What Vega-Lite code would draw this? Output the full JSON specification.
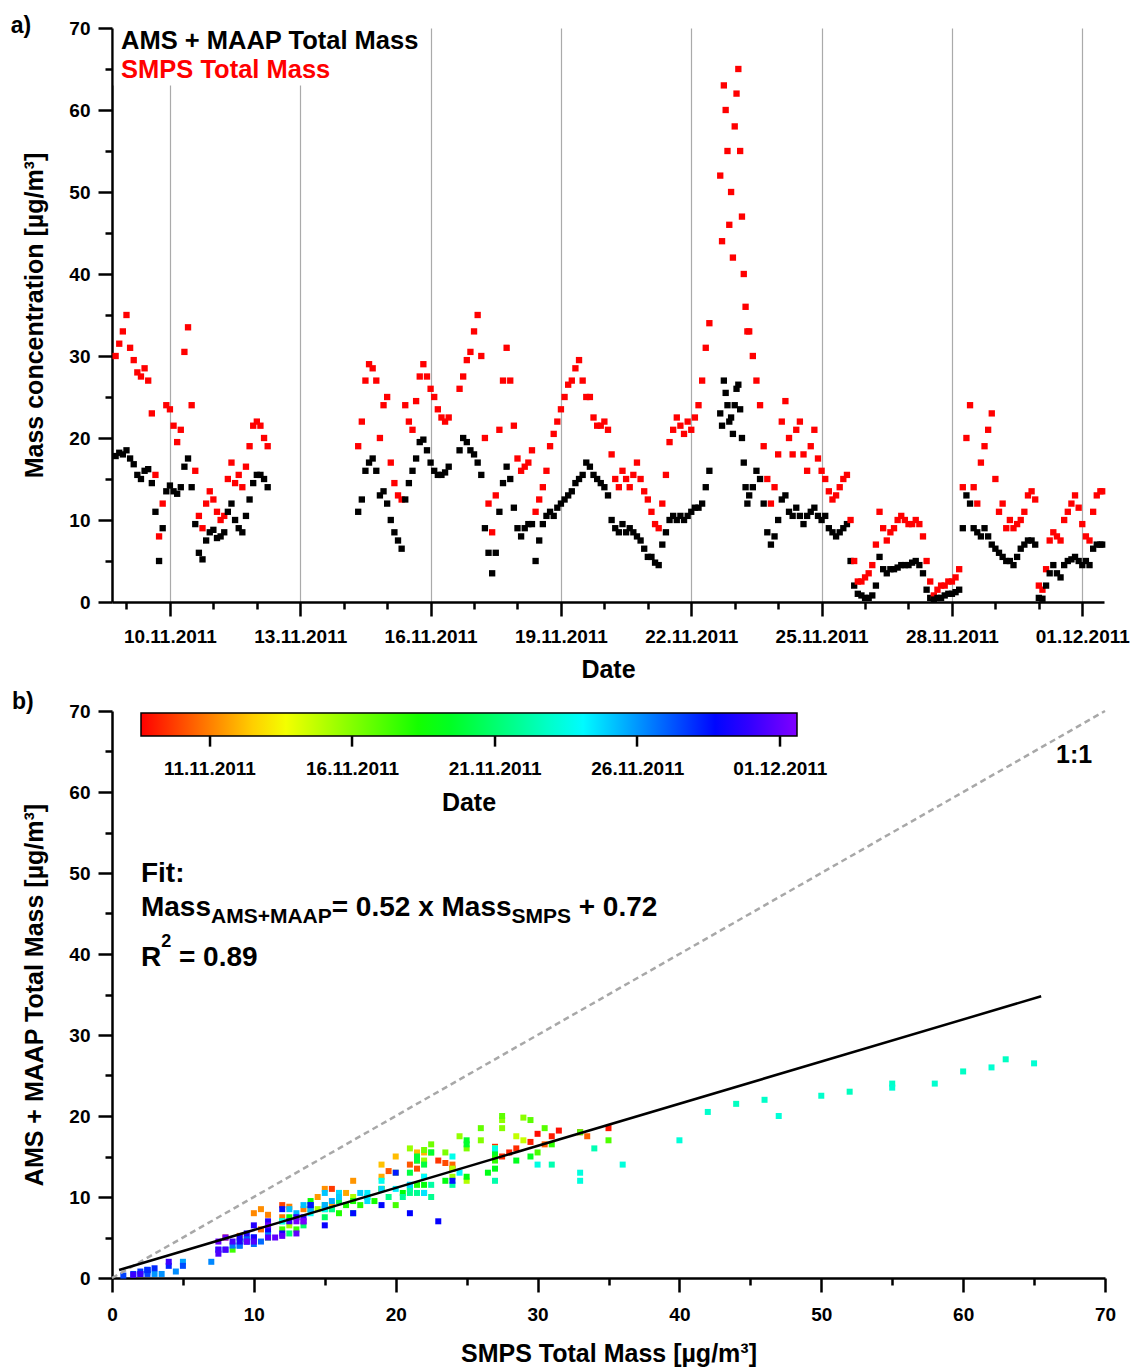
{
"$schema": "https://vega.github.io/schema/vega-lite/v6.json",
"background": "white",
"padding": {"left": 10, "top": 14, "right": 5, "bottom": 5},
"spacing": 8,
"config": {
  "font": "Liberation Sans",
  "view": {"stroke": null},
  "axis": {"domainColor": "black", "domainWidth": 2.5, "tickColor": "black", "tickWidth": 2.5, "labelFont": "Liberation Sans", "labelFontSize": 19, "labelFontWeight": "bold", "labelColor": "black", "titleFont": "Liberation Sans", "titleFontSize": 25, "titleFontWeight": "bold", "titleColor": "black", "grid": false, "labelFlush": false, "labelOverlap": false}
},
"datasets": {
  "obs": [
    {"t":"2011-11-08T18:00","smps":30.0,"ams":17.8},
    {"t":"2011-11-08T20:00","smps":31.5,"ams":18.2},
    {"t":"2011-11-08T22:00","smps":33.0,"ams":18.0},
    {"t":"2011-11-09T00:00","smps":35.0,"ams":18.5},
    {"t":"2011-11-09T02:00","smps":31.0,"ams":17.5},
    {"t":"2011-11-09T04:00","smps":29.5,"ams":16.8},
    {"t":"2011-11-09T06:00","smps":28.0,"ams":15.5},
    {"t":"2011-11-09T08:00","smps":27.5,"ams":15.0},
    {"t":"2011-11-09T10:00","smps":28.5,"ams":16.0},
    {"t":"2011-11-09T12:00","smps":27.0,"ams":16.2},
    {"t":"2011-11-09T14:00","smps":23.0,"ams":14.5},
    {"t":"2011-11-09T16:00","smps":15.5,"ams":11.0},
    {"t":"2011-11-09T18:00","smps":8.0,"ams":5.0},
    {"t":"2011-11-09T20:00","smps":12.0,"ams":9.0},
    {"t":"2011-11-09T22:00","smps":24.0,"ams":13.5},
    {"t":"2011-11-10T00:00","smps":23.5,"ams":14.2},
    {"t":"2011-11-10T02:00","smps":21.5,"ams":13.5},
    {"t":"2011-11-10T04:00","smps":19.5,"ams":13.2},
    {"t":"2011-11-10T06:00","smps":21.0,"ams":14.0},
    {"t":"2011-11-10T08:00","smps":30.5,"ams":16.5},
    {"t":"2011-11-10T10:00","smps":33.5,"ams":17.5},
    {"t":"2011-11-10T12:00","smps":24.0,"ams":14.0},
    {"t":"2011-11-10T14:00","smps":16.0,"ams":9.5},
    {"t":"2011-11-10T16:00","smps":10.5,"ams":6.0},
    {"t":"2011-11-10T18:00","smps":9.0,"ams":5.2},
    {"t":"2011-11-10T20:00","smps":12.0,"ams":7.5},
    {"t":"2011-11-10T22:00","smps":13.5,"ams":8.5},
    {"t":"2011-11-11T00:00","smps":12.5,"ams":8.8},
    {"t":"2011-11-11T02:00","smps":11.0,"ams":7.8},
    {"t":"2011-11-11T04:00","smps":10.0,"ams":8.0},
    {"t":"2011-11-11T06:00","smps":10.5,"ams":8.5},
    {"t":"2011-11-11T08:00","smps":15.0,"ams":11.0},
    {"t":"2011-11-11T10:00","smps":17.0,"ams":12.0},
    {"t":"2011-11-11T12:00","smps":14.5,"ams":10.0},
    {"t":"2011-11-11T14:00","smps":15.5,"ams":9.0},
    {"t":"2011-11-11T16:00","smps":14.0,"ams":8.5},
    {"t":"2011-11-11T18:00","smps":16.5,"ams":10.5},
    {"t":"2011-11-11T20:00","smps":19.0,"ams":12.5},
    {"t":"2011-11-11T22:00","smps":21.5,"ams":14.5},
    {"t":"2011-11-12T00:00","smps":22.0,"ams":15.5},
    {"t":"2011-11-12T02:00","smps":21.5,"ams":15.5},
    {"t":"2011-11-12T04:00","smps":20.0,"ams":15.0},
    {"t":"2011-11-12T06:00","smps":19.0,"ams":14.0},
    {"t":"2011-11-14T08:00","smps":19.0,"ams":11.0},
    {"t":"2011-11-14T10:00","smps":22.0,"ams":12.5},
    {"t":"2011-11-14T12:00","smps":27.0,"ams":16.0},
    {"t":"2011-11-14T14:00","smps":29.0,"ams":17.0},
    {"t":"2011-11-14T16:00","smps":28.5,"ams":17.5},
    {"t":"2011-11-14T18:00","smps":27.0,"ams":16.0},
    {"t":"2011-11-14T20:00","smps":20.0,"ams":13.0},
    {"t":"2011-11-14T22:00","smps":24.0,"ams":13.5},
    {"t":"2011-11-15T00:00","smps":25.0,"ams":12.0},
    {"t":"2011-11-15T02:00","smps":17.0,"ams":10.0},
    {"t":"2011-11-15T04:00","smps":14.5,"ams":8.5},
    {"t":"2011-11-15T06:00","smps":13.0,"ams":7.5},
    {"t":"2011-11-15T08:00","smps":12.5,"ams":6.5},
    {"t":"2011-11-15T10:00","smps":24.0,"ams":12.5},
    {"t":"2011-11-15T12:00","smps":22.0,"ams":14.5},
    {"t":"2011-11-15T14:00","smps":21.0,"ams":16.0},
    {"t":"2011-11-15T16:00","smps":24.5,"ams":17.5},
    {"t":"2011-11-15T18:00","smps":27.5,"ams":19.5},
    {"t":"2011-11-15T20:00","smps":29.0,"ams":19.8},
    {"t":"2011-11-15T22:00","smps":27.5,"ams":18.5},
    {"t":"2011-11-16T00:00","smps":26.0,"ams":17.0},
    {"t":"2011-11-16T02:00","smps":25.0,"ams":16.0},
    {"t":"2011-11-16T04:00","smps":23.5,"ams":15.5},
    {"t":"2011-11-16T06:00","smps":22.5,"ams":15.5},
    {"t":"2011-11-16T08:00","smps":22.0,"ams":15.8},
    {"t":"2011-11-16T10:00","smps":22.5,"ams":16.5},
    {"t":"2011-11-16T16:00","smps":26.0,"ams":18.5},
    {"t":"2011-11-16T18:00","smps":27.5,"ams":20.0},
    {"t":"2011-11-16T20:00","smps":29.5,"ams":19.5},
    {"t":"2011-11-16T22:00","smps":30.5,"ams":18.5},
    {"t":"2011-11-17T00:00","smps":33.0,"ams":18.0},
    {"t":"2011-11-17T02:00","smps":35.0,"ams":17.0},
    {"t":"2011-11-17T04:00","smps":30.0,"ams":15.5},
    {"t":"2011-11-17T06:00","smps":20.0,"ams":9.0},
    {"t":"2011-11-17T08:00","smps":12.0,"ams":6.0},
    {"t":"2011-11-17T10:00","smps":8.5,"ams":3.5},
    {"t":"2011-11-17T12:00","smps":13.0,"ams":6.0},
    {"t":"2011-11-17T14:00","smps":21.0,"ams":11.0},
    {"t":"2011-11-17T16:00","smps":27.0,"ams":14.5},
    {"t":"2011-11-17T18:00","smps":31.0,"ams":16.5},
    {"t":"2011-11-17T20:00","smps":27.0,"ams":15.0},
    {"t":"2011-11-17T22:00","smps":21.5,"ams":11.5},
    {"t":"2011-11-18T00:00","smps":17.5,"ams":9.0},
    {"t":"2011-11-18T02:00","smps":16.0,"ams":8.0},
    {"t":"2011-11-18T04:00","smps":16.5,"ams":9.0},
    {"t":"2011-11-18T06:00","smps":17.0,"ams":9.5},
    {"t":"2011-11-18T08:00","smps":18.5,"ams":9.5},
    {"t":"2011-11-18T10:00","smps":11.0,"ams":5.0},
    {"t":"2011-11-18T12:00","smps":12.5,"ams":7.5},
    {"t":"2011-11-18T14:00","smps":14.0,"ams":9.5},
    {"t":"2011-11-18T16:00","smps":16.0,"ams":10.5},
    {"t":"2011-11-18T18:00","smps":19.0,"ams":11.0},
    {"t":"2011-11-18T20:00","smps":20.5,"ams":10.5},
    {"t":"2011-11-18T22:00","smps":22.0,"ams":11.5},
    {"t":"2011-11-19T00:00","smps":23.5,"ams":12.0},
    {"t":"2011-11-19T02:00","smps":25.0,"ams":12.5},
    {"t":"2011-11-19T04:00","smps":26.5,"ams":13.0},
    {"t":"2011-11-19T06:00","smps":27.0,"ams":13.5},
    {"t":"2011-11-19T08:00","smps":28.5,"ams":14.5},
    {"t":"2011-11-19T10:00","smps":29.5,"ams":15.0},
    {"t":"2011-11-19T12:00","smps":27.0,"ams":15.5},
    {"t":"2011-11-19T14:00","smps":25.0,"ams":17.0},
    {"t":"2011-11-19T16:00","smps":25.0,"ams":16.5},
    {"t":"2011-11-19T18:00","smps":22.5,"ams":15.5},
    {"t":"2011-11-19T20:00","smps":21.5,"ams":15.0},
    {"t":"2011-11-19T22:00","smps":21.5,"ams":14.5},
    {"t":"2011-11-20T00:00","smps":22.0,"ams":14.0},
    {"t":"2011-11-20T02:00","smps":21.0,"ams":13.0},
    {"t":"2011-11-20T04:00","smps":18.0,"ams":10.0},
    {"t":"2011-11-20T06:00","smps":15.0,"ams":9.0},
    {"t":"2011-11-20T08:00","smps":14.0,"ams":8.5},
    {"t":"2011-11-20T10:00","smps":16.0,"ams":9.5},
    {"t":"2011-11-20T12:00","smps":15.0,"ams":8.5},
    {"t":"2011-11-20T14:00","smps":14.0,"ams":9.0},
    {"t":"2011-11-20T16:00","smps":15.5,"ams":8.5},
    {"t":"2011-11-20T18:00","smps":17.0,"ams":8.0},
    {"t":"2011-11-20T20:00","smps":15.0,"ams":7.5},
    {"t":"2011-11-20T22:00","smps":13.5,"ams":6.5},
    {"t":"2011-11-21T00:00","smps":12.5,"ams":5.5},
    {"t":"2011-11-21T02:00","smps":11.0,"ams":5.5},
    {"t":"2011-11-21T04:00","smps":9.5,"ams":4.8},
    {"t":"2011-11-21T06:00","smps":9.0,"ams":4.5},
    {"t":"2011-11-21T08:00","smps":12.0,"ams":7.0},
    {"t":"2011-11-21T10:00","smps":15.5,"ams":8.5},
    {"t":"2011-11-21T12:00","smps":19.5,"ams":10.0},
    {"t":"2011-11-21T14:00","smps":21.0,"ams":10.5},
    {"t":"2011-11-21T16:00","smps":22.5,"ams":10.0},
    {"t":"2011-11-21T18:00","smps":21.5,"ams":10.5},
    {"t":"2011-11-21T20:00","smps":20.5,"ams":10.0},
    {"t":"2011-11-21T22:00","smps":22.0,"ams":10.5},
    {"t":"2011-11-22T00:00","smps":21.0,"ams":11.0},
    {"t":"2011-11-22T02:00","smps":22.5,"ams":11.5},
    {"t":"2011-11-22T04:00","smps":24.0,"ams":11.5},
    {"t":"2011-11-22T06:00","smps":27.0,"ams":12.0},
    {"t":"2011-11-22T08:00","smps":31.0,"ams":14.0},
    {"t":"2011-11-22T10:00","smps":34.0,"ams":16.0},
    {"t":"2011-11-22T16:00","smps":52.0,"ams":23.0},
    {"t":"2011-11-22T17:00","smps":44.0,"ams":21.5},
    {"t":"2011-11-22T18:00","smps":63.0,"ams":27.0},
    {"t":"2011-11-22T19:00","smps":60.0,"ams":25.5},
    {"t":"2011-11-22T20:00","smps":55.0,"ams":24.0},
    {"t":"2011-11-22T21:00","smps":46.0,"ams":22.0},
    {"t":"2011-11-22T22:00","smps":50.0,"ams":22.5},
    {"t":"2011-11-22T23:00","smps":42.0,"ams":20.5},
    {"t":"2011-11-23T00:00","smps":58.0,"ams":24.0},
    {"t":"2011-11-23T01:00","smps":62.0,"ams":26.0},
    {"t":"2011-11-23T02:00","smps":65.0,"ams":26.5},
    {"t":"2011-11-23T03:00","smps":55.0,"ams":23.5},
    {"t":"2011-11-23T04:00","smps":47.0,"ams":20.0},
    {"t":"2011-11-23T05:00","smps":40.0,"ams":17.0},
    {"t":"2011-11-23T06:00","smps":36.0,"ams":14.0},
    {"t":"2011-11-23T07:00","smps":33.0,"ams":12.0},
    {"t":"2011-11-23T08:00","smps":33.0,"ams":13.0},
    {"t":"2011-11-23T10:00","smps":30.0,"ams":14.0},
    {"t":"2011-11-23T12:00","smps":27.0,"ams":16.0},
    {"t":"2011-11-23T14:00","smps":24.0,"ams":15.0},
    {"t":"2011-11-23T16:00","smps":19.0,"ams":12.0},
    {"t":"2011-11-23T18:00","smps":15.0,"ams":8.5},
    {"t":"2011-11-23T20:00","smps":12.0,"ams":7.0},
    {"t":"2011-11-23T22:00","smps":14.0,"ams":8.0},
    {"t":"2011-11-24T00:00","smps":18.0,"ams":10.0},
    {"t":"2011-11-24T02:00","smps":22.0,"ams":12.5},
    {"t":"2011-11-24T04:00","smps":24.5,"ams":13.0},
    {"t":"2011-11-24T06:00","smps":20.0,"ams":11.0},
    {"t":"2011-11-24T08:00","smps":18.0,"ams":10.5},
    {"t":"2011-11-24T10:00","smps":21.0,"ams":11.5},
    {"t":"2011-11-24T12:00","smps":22.0,"ams":10.5},
    {"t":"2011-11-24T14:00","smps":18.0,"ams":9.5},
    {"t":"2011-11-24T16:00","smps":16.0,"ams":10.5},
    {"t":"2011-11-24T18:00","smps":19.0,"ams":11.0},
    {"t":"2011-11-24T20:00","smps":21.0,"ams":11.5},
    {"t":"2011-11-24T22:00","smps":17.5,"ams":10.5},
    {"t":"2011-11-25T00:00","smps":16.0,"ams":10.0},
    {"t":"2011-11-25T02:00","smps":15.0,"ams":10.5},
    {"t":"2011-11-25T04:00","smps":13.5,"ams":9.0},
    {"t":"2011-11-25T06:00","smps":12.5,"ams":8.5},
    {"t":"2011-11-25T08:00","smps":13.0,"ams":8.0},
    {"t":"2011-11-25T10:00","smps":14.0,"ams":8.5},
    {"t":"2011-11-25T12:00","smps":15.0,"ams":9.0},
    {"t":"2011-11-25T14:00","smps":15.5,"ams":9.5},
    {"t":"2011-11-25T16:00","smps":10.0,"ams":5.0},
    {"t":"2011-11-25T18:00","smps":5.0,"ams":2.0},
    {"t":"2011-11-25T20:00","smps":2.5,"ams":1.0},
    {"t":"2011-11-25T22:00","smps":2.5,"ams":0.8},
    {"t":"2011-11-26T00:00","smps":3.0,"ams":0.5},
    {"t":"2011-11-26T02:00","smps":3.5,"ams":0.5},
    {"t":"2011-11-26T04:00","smps":4.5,"ams":0.8},
    {"t":"2011-11-26T06:00","smps":7.0,"ams":2.0},
    {"t":"2011-11-26T08:00","smps":11.0,"ams":5.5},
    {"t":"2011-11-26T10:00","smps":9.0,"ams":4.0},
    {"t":"2011-11-26T12:00","smps":7.5,"ams":3.5},
    {"t":"2011-11-26T14:00","smps":8.5,"ams":4.0},
    {"t":"2011-11-26T16:00","smps":9.0,"ams":4.0},
    {"t":"2011-11-26T18:00","smps":10.0,"ams":4.2},
    {"t":"2011-11-26T20:00","smps":10.5,"ams":4.5},
    {"t":"2011-11-26T22:00","smps":10.0,"ams":4.5},
    {"t":"2011-11-27T00:00","smps":9.5,"ams":4.5},
    {"t":"2011-11-27T02:00","smps":9.5,"ams":4.8},
    {"t":"2011-11-27T04:00","smps":10.0,"ams":5.0},
    {"t":"2011-11-27T06:00","smps":9.5,"ams":4.5},
    {"t":"2011-11-27T08:00","smps":8.0,"ams":3.5},
    {"t":"2011-11-27T10:00","smps":5.0,"ams":1.5},
    {"t":"2011-11-27T12:00","smps":2.5,"ams":0.5},
    {"t":"2011-11-27T14:00","smps":0.8,"ams":0.3},
    {"t":"2011-11-27T16:00","smps":1.5,"ams":0.5},
    {"t":"2011-11-27T18:00","smps":2.0,"ams":0.5},
    {"t":"2011-11-27T20:00","smps":2.0,"ams":0.8},
    {"t":"2011-11-27T22:00","smps":2.5,"ams":1.0},
    {"t":"2011-11-28T00:00","smps":2.5,"ams":1.0},
    {"t":"2011-11-28T02:00","smps":3.0,"ams":1.2},
    {"t":"2011-11-28T04:00","smps":4.0,"ams":1.5},
    {"t":"2011-11-28T06:00","smps":14.0,"ams":9.0},
    {"t":"2011-11-28T08:00","smps":20.0,"ams":13.0},
    {"t":"2011-11-28T10:00","smps":24.0,"ams":12.0},
    {"t":"2011-11-28T12:00","smps":14.0,"ams":9.0},
    {"t":"2011-11-28T14:00","smps":12.0,"ams":8.5},
    {"t":"2011-11-28T16:00","smps":17.0,"ams":8.0},
    {"t":"2011-11-28T18:00","smps":19.0,"ams":9.0},
    {"t":"2011-11-28T20:00","smps":21.0,"ams":8.0},
    {"t":"2011-11-28T22:00","smps":23.0,"ams":7.0},
    {"t":"2011-11-29T00:00","smps":15.0,"ams":6.5},
    {"t":"2011-11-29T02:00","smps":11.0,"ams":6.0},
    {"t":"2011-11-29T04:00","smps":12.0,"ams":5.5},
    {"t":"2011-11-29T06:00","smps":9.0,"ams":5.0},
    {"t":"2011-11-29T08:00","smps":10.0,"ams":5.0},
    {"t":"2011-11-29T10:00","smps":9.0,"ams":4.5},
    {"t":"2011-11-29T12:00","smps":9.5,"ams":5.5},
    {"t":"2011-11-29T14:00","smps":10.0,"ams":6.5},
    {"t":"2011-11-29T16:00","smps":11.0,"ams":7.0},
    {"t":"2011-11-29T18:00","smps":13.0,"ams":7.5},
    {"t":"2011-11-29T20:00","smps":13.5,"ams":7.5},
    {"t":"2011-11-29T22:00","smps":12.5,"ams":7.0},
    {"t":"2011-11-30T00:00","smps":2.0,"ams":0.5},
    {"t":"2011-11-30T02:00","smps":1.5,"ams":0.4},
    {"t":"2011-11-30T04:00","smps":4.0,"ams":2.0},
    {"t":"2011-11-30T06:00","smps":7.5,"ams":3.5},
    {"t":"2011-11-30T08:00","smps":8.5,"ams":4.5},
    {"t":"2011-11-30T10:00","smps":8.0,"ams":3.5},
    {"t":"2011-11-30T12:00","smps":7.5,"ams":3.0},
    {"t":"2011-11-30T14:00","smps":10.0,"ams":4.5},
    {"t":"2011-11-30T16:00","smps":11.0,"ams":5.0},
    {"t":"2011-11-30T18:00","smps":12.0,"ams":5.2},
    {"t":"2011-11-30T20:00","smps":13.0,"ams":5.5},
    {"t":"2011-11-30T22:00","smps":11.5,"ams":5.0},
    {"t":"2011-12-01T00:00","smps":9.5,"ams":4.5},
    {"t":"2011-12-01T02:00","smps":8.0,"ams":5.0},
    {"t":"2011-12-01T04:00","smps":7.5,"ams":4.5},
    {"t":"2011-12-01T06:00","smps":11.0,"ams":6.5},
    {"t":"2011-12-01T08:00","smps":13.0,"ams":7.0},
    {"t":"2011-12-01T10:00","smps":13.5,"ams":7.0},
    {"t":"2011-12-01T11:00","smps":13.5,"ams":7.0}
  ],
  "one": [{"smps": 0, "ams": 0}, {"smps": 70, "ams": 70}],
  "fit": [{"smps": 0.5, "ams": 0.98}, {"smps": 65.5, "ams": 34.78}]
},
"vconcat": [
  {
    "width": 992,
    "height": 574,
    "resolve": {"axis": {"x": "independent", "y": "independent"}},
    "layer": [
      {
        "data": {"values": [{}]},
        "mark": {"type": "rect", "color": "white"},
        "encoding": {
          "x": {"datum": {"year": 2011, "month": 11, "date": 8, "hours": 17}, "type": "temporal", "axis": null},
          "x2": {"datum": {"year": 2011, "month": 11, "date": 15, "hours": 20}},
          "y": {"datum": 63, "type": "quantitative", "axis": null},
          "y2": {"datum": 70}
        }
      },
      {
        "data": {"name": "obs"},
        "transform": [{"fold": ["smps", "ams"], "as": ["series", "val"]}],
        "mark": {"type": "square", "filled": true, "size": 40, "opacity": 1},
        "encoding": {
          "x": {"field": "t", "type": "temporal",
            "scale": {"domain": [{"year": 2011, "month": 11, "date": 8, "hours": 16}, {"year": 2011, "month": 12, "date": 1, "hours": 12}]},
            "axis": {"title": "Date", "orient": "bottom", "format": "%d.%m.%Y", "tickSize": 14, "labelPadding": 11, "titlePadding": 11,
              "grid": true, "gridColor": "#aaaaaa", "gridWidth": 1.2,
              "values": [{"year": 2011, "month": 11, "date": 10}, {"year": 2011, "month": 11, "date": 13}, {"year": 2011, "month": 11, "date": 16}, {"year": 2011, "month": 11, "date": 19}, {"year": 2011, "month": 11, "date": 22}, {"year": 2011, "month": 11, "date": 25}, {"year": 2011, "month": 11, "date": 28}, {"year": 2011, "month": 12, "date": 1}]}},
          "y": {"field": "val", "type": "quantitative", "scale": {"domain": [0, 70], "nice": false},
            "axis": {"title": "Mass concentration [µg/m³]", "orient": "left", "values": [0, 10, 20, 30, 40, 50, 60, 70], "tickSize": 14, "labelPadding": 8, "titlePadding": 21}},
          "color": {"field": "series", "type": "nominal", "scale": {"domain": ["smps", "ams"], "range": ["#ff0000", "#000000"]}, "legend": null}
        }
      },
      {
        "data": {"name": "obs"},
        "mark": {"type": "square", "opacity": 0},
        "encoding": {
          "x": {"field": "t", "type": "temporal",
            "axis": {"orient": "bottom", "tickSize": 7, "labels": false, "domain": false, "title": null, "grid": false,
              "values": [{"year": 2011, "month": 11, "date": 9}, {"year": 2011, "month": 11, "date": 11}, {"year": 2011, "month": 11, "date": 12}, {"year": 2011, "month": 11, "date": 14}, {"year": 2011, "month": 11, "date": 15}, {"year": 2011, "month": 11, "date": 17}, {"year": 2011, "month": 11, "date": 18}, {"year": 2011, "month": 11, "date": 20}, {"year": 2011, "month": 11, "date": 21}, {"year": 2011, "month": 11, "date": 23}, {"year": 2011, "month": 11, "date": 24}, {"year": 2011, "month": 11, "date": 26}, {"year": 2011, "month": 11, "date": 27}, {"year": 2011, "month": 11, "date": 29}, {"year": 2011, "month": 11, "date": 30}]}},
          "y": {"field": "smps", "type": "quantitative",
            "axis": {"orient": "left", "values": [5, 15, 25, 35, 45, 55, 65], "tickSize": 7, "labels": false, "domain": false, "title": null}}
        }
      },
      {
        "data": {"values": [{}]},
        "mark": {"type": "text", "text": "AMS + MAAP Total Mass", "align": "left", "baseline": "alphabetic", "fontSize": 25.5, "fontWeight": "bold", "font": "Liberation Sans", "color": "black"},
        "encoding": {
          "x": {"datum": {"year": 2011, "month": 11, "date": 8, "hours": 21}, "type": "temporal", "axis": null},
          "y": {"datum": 67.5, "type": "quantitative", "axis": null}
        }
      },
      {
        "data": {"values": [{}]},
        "mark": {"type": "text", "text": "SMPS Total Mass", "align": "left", "baseline": "alphabetic", "fontSize": 25.5, "fontWeight": "bold", "font": "Liberation Sans", "color": "#ff0000"},
        "encoding": {
          "x": {"datum": {"year": 2011, "month": 11, "date": 8, "hours": 21}, "type": "temporal", "axis": null},
          "y": {"datum": 63.9, "type": "quantitative", "axis": null}
        }
      },
      {
        "data": {"values": [{}]},
        "mark": {"type": "text", "text": "a)", "align": "left", "baseline": "alphabetic", "fontSize": 23, "fontWeight": "bold", "font": "Liberation Sans", "color": "black"},
        "encoding": {
          "x": {"datum": {"year": 2011, "month": 11, "date": 6, "hours": 8}, "type": "temporal", "axis": null},
          "y": {"datum": 69.4, "type": "quantitative", "axis": null}
        }
      }
    ]
  },
  {
    "width": 993,
    "height": 567,
    "resolve": {"axis": {"x": "independent", "y": "independent"}},
    "layer": [
      {
        "data": {"name": "obs", "format": {"parse": {"t": "date"}}},
        "mark": {"type": "square", "filled": true, "size": 36, "opacity": 1},
        "encoding": {
          "x": {"field": "smps", "type": "quantitative", "scale": {"domain": [0, 70], "nice": false},
            "axis": {"title": "SMPS Total Mass [µg/m³]", "orient": "bottom", "values": [0, 10, 20, 30, 40, 50, 60, 70], "tickSize": 14, "labelPadding": 13, "titlePadding": 17}},
          "y": {"field": "ams", "type": "quantitative", "scale": {"domain": [0, 70], "nice": false},
            "axis": {"title": "AMS + MAAP Total Mass [µg/m³]", "orient": "left", "values": [0, 10, 20, 30, 40, 50, 60, 70], "tickSize": 14, "labelPadding": 8, "titlePadding": 21}},
          "color": {"field": "t", "type": "quantitative",
            "scale": {"domain": [1320760800000, 1321178400000, 1321635600000, 1322092800000, 1322510400000, 1322748000000],
              "range": ["#ff0000", "#ffff00", "#00ff00", "#00ffff", "#0000ff", "#8000ff"], "interpolate": "rgb", "nice": false, "zero": false},
            "legend": {"type": "gradient", "orient": "none", "legendX": 29, "legendY": 2, "direction": "horizontal", "padding": 0,
              "gradientLength": 656, "gradientThickness": 23, "gradientStrokeColor": "black", "gradientStrokeWidth": 1.5,
              "title": "Date", "titleOrient": "bottom", "titleAnchor": "middle", "titleFont": "Liberation Sans", "titleFontSize": 25, "titleFontWeight": "bold", "titleColor": "black", "titlePadding": 12,
              "labelFont": "Liberation Sans", "labelFontSize": 19, "labelFontWeight": "bold", "labelColor": "black", "labelOffset": 24, "labelOverlap": false,
              "format": "%d.%m.%Y", "formatType": "time",
              "values": [1320969600000, 1321401600000, 1321833600000, 1322265600000, 1322697600000]}}
        }
      },
      {
        "data": {"name": "obs"},
        "mark": {"type": "square", "opacity": 0},
        "encoding": {
          "x": {"field": "smps", "type": "quantitative",
            "axis": {"orient": "bottom", "values": [5, 15, 25, 35, 45, 55, 65], "tickSize": 7, "labels": false, "domain": false, "title": null}},
          "y": {"field": "ams", "type": "quantitative",
            "axis": {"orient": "left", "values": [5, 15, 25, 35, 45, 55, 65], "tickSize": 7, "labels": false, "domain": false, "title": null}}
        }
      },
      {
        "data": {"name": "one"},
        "mark": {"type": "line", "color": "#a8a8a8", "strokeWidth": 2.5, "strokeDash": [6, 4]},
        "encoding": {
          "x": {"field": "smps", "type": "quantitative", "axis": null},
          "y": {"field": "ams", "type": "quantitative", "axis": null}
        }
      },
      {
        "data": {"name": "fit"},
        "mark": {"type": "line", "color": "black", "strokeWidth": 2.5},
        "encoding": {
          "x": {"field": "smps", "type": "quantitative", "axis": null},
          "y": {"field": "ams", "type": "quantitative", "axis": null}
        }
      },
      {
        "data": {"values": [{}]},
        "mark": {"type": "rule", "color": "black", "strokeWidth": 2.5},
        "encoding": {"x": {"datum": 6.91, "type": "quantitative", "axis": null}, "y": {"datum": 66.9, "type": "quantitative", "axis": null}, "y2": {"datum": 65.6}}
      },
      {
        "data": {"values": [{}]},
        "mark": {"type": "rule", "color": "black", "strokeWidth": 2.5},
        "encoding": {"x": {"datum": 16.92, "type": "quantitative", "axis": null}, "y": {"datum": 66.9, "type": "quantitative", "axis": null}, "y2": {"datum": 65.6}}
      },
      {
        "data": {"values": [{}]},
        "mark": {"type": "rule", "color": "black", "strokeWidth": 2.5},
        "encoding": {"x": {"datum": 27.0, "type": "quantitative", "axis": null}, "y": {"datum": 66.9, "type": "quantitative", "axis": null}, "y2": {"datum": 65.6}}
      },
      {
        "data": {"values": [{}]},
        "mark": {"type": "rule", "color": "black", "strokeWidth": 2.5},
        "encoding": {"x": {"datum": 37.01, "type": "quantitative", "axis": null}, "y": {"datum": 66.9, "type": "quantitative", "axis": null}, "y2": {"datum": 65.6}}
      },
      {
        "data": {"values": [{}]},
        "mark": {"type": "rule", "color": "black", "strokeWidth": 2.5},
        "encoding": {"x": {"datum": 47.09, "type": "quantitative", "axis": null}, "y": {"datum": 66.9, "type": "quantitative", "axis": null}, "y2": {"datum": 65.6}}
      },
      {
        "data": {"values": [{}]},
        "mark": {"type": "text", "text": "1:1", "align": "left", "baseline": "alphabetic", "fontSize": 25, "fontWeight": "bold", "font": "Liberation Sans", "color": "black"},
        "encoding": {"x": {"datum": 66.55, "type": "quantitative", "axis": null}, "y": {"datum": 63.6, "type": "quantitative", "axis": null}}
      },
      {
        "data": {"values": [{}]},
        "mark": {"type": "text", "text": "Fit:", "align": "left", "baseline": "alphabetic", "fontSize": 28, "fontWeight": "bold", "font": "Liberation Sans", "color": "black"},
        "encoding": {"x": {"datum": 2.04, "type": "quantitative", "axis": null}, "y": {"datum": 48.83, "type": "quantitative", "axis": null}}
      },
      {
        "data": {"values": [{}]},
        "mark": {"type": "text", "text": "Mass", "align": "left", "baseline": "alphabetic", "fontSize": 28, "fontWeight": "bold", "font": "Liberation Sans", "color": "black"},
        "encoding": {"x": {"datum": 2.04, "type": "quantitative", "axis": null}, "y": {"datum": 44.75, "type": "quantitative", "axis": null}}
      },
      {
        "data": {"values": [{}]},
        "mark": {"type": "text", "text": "AMS+MAAP", "align": "left", "baseline": "alphabetic", "dy": 7, "fontSize": 21, "fontWeight": "bold", "font": "Liberation Sans", "color": "black"},
        "encoding": {"x": {"datum": 6.98, "type": "quantitative", "axis": null}, "y": {"datum": 44.75, "type": "quantitative", "axis": null}}
      },
      {
        "data": {"values": [{}]},
        "mark": {"type": "text", "text": "= 0.52 x Mass", "align": "left", "baseline": "alphabetic", "fontSize": 28, "fontWeight": "bold", "font": "Liberation Sans", "color": "black"},
        "encoding": {"x": {"datum": 15.49, "type": "quantitative", "axis": null}, "y": {"datum": 44.75, "type": "quantitative", "axis": null}}
      },
      {
        "data": {"values": [{}]},
        "mark": {"type": "text", "text": "SMPS", "align": "left", "baseline": "alphabetic", "dy": 7, "fontSize": 21, "fontWeight": "bold", "font": "Liberation Sans", "color": "black"},
        "encoding": {"x": {"datum": 28.16, "type": "quantitative", "axis": null}, "y": {"datum": 44.75, "type": "quantitative", "axis": null}}
      },
      {
        "data": {"values": [{}]},
        "mark": {"type": "text", "text": "+ 0.72", "align": "left", "baseline": "alphabetic", "fontSize": 28, "fontWeight": "bold", "font": "Liberation Sans", "color": "black"},
        "encoding": {"x": {"datum": 32.9, "type": "quantitative", "axis": null}, "y": {"datum": 44.75, "type": "quantitative", "axis": null}}
      },
      {
        "data": {"values": [{}]},
        "mark": {"type": "text", "text": "R", "align": "left", "baseline": "alphabetic", "fontSize": 28, "fontWeight": "bold", "font": "Liberation Sans", "color": "black"},
        "encoding": {"x": {"datum": 2.04, "type": "quantitative", "axis": null}, "y": {"datum": 38.58, "type": "quantitative", "axis": null}}
      },
      {
        "data": {"values": [{}]},
        "mark": {"type": "text", "text": "2", "align": "left", "baseline": "alphabetic", "fontSize": 18, "fontWeight": "bold", "font": "Liberation Sans", "color": "black"},
        "encoding": {"x": {"datum": 3.47, "type": "quantitative", "axis": null}, "y": {"datum": 40.86, "type": "quantitative", "axis": null}}
      },
      {
        "data": {"values": [{}]},
        "mark": {"type": "text", "text": "= 0.89", "align": "left", "baseline": "alphabetic", "fontSize": 28, "fontWeight": "bold", "font": "Liberation Sans", "color": "black"},
        "encoding": {"x": {"datum": 4.72, "type": "quantitative", "axis": null}, "y": {"datum": 38.58, "type": "quantitative", "axis": null}}
      },
      {
        "data": {"values": [{}]},
        "mark": {"type": "text", "text": "b)", "align": "left", "baseline": "alphabetic", "fontSize": 23, "fontWeight": "bold", "font": "Liberation Sans", "color": "black"},
        "encoding": {"x": {"datum": -7.05, "type": "quantitative", "axis": null}, "y": {"datum": 70.25, "type": "quantitative", "axis": null}}
      }
    ]
  }
]
}
